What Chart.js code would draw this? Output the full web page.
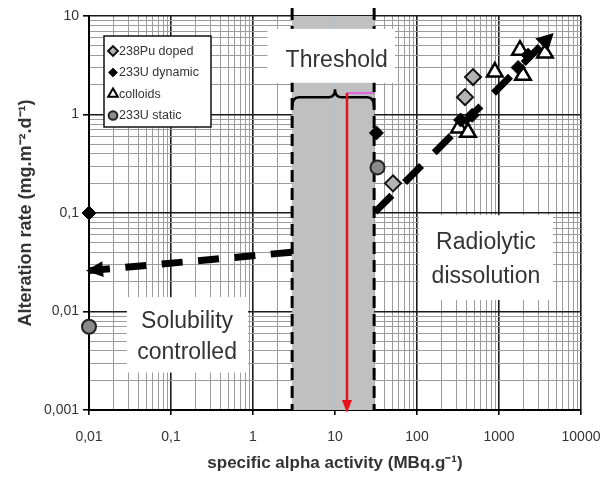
<!DOCTYPE html>
<html>
<head>
<meta charset="utf-8">
<script src="https://cdn.jsdelivr.net/npm/chart.js@4/dist/chart.umd.min.js"></script>
<style>
  html, body { margin: 0; padding: 0; background: #fff; }
  #wrap { width: 603px; height: 486px; position: relative; }
</style>
</head>
<body>
<div id="wrap"><canvas id="c" width="603" height="486"></canvas></div>
<script>
// ---------- data ----------
const xTickLabels = ['0,01', '0,1', '1', '10', '100', '1000', '10000'];
const yTickLabels = ['0,001', '0,01', '0,1', '1', '10'];

const seriesNames = ['238Pu doped', '233U dynamic', 'colloids', '233U static'];

const puDopedX = [51, 385, 482];
const puDopedY = [0.20, 1.5, 2.4];

const uDynamicX = [0.01, 32, 340, 470, 1710, 2260];
const uDynamicY = [0.1, 0.65, 0.88, 0.98, 3.0, 4.0];

const colloidsX = [325, 419, 890, 1800, 1960, 3640];
const colloidsY = [0.73, 0.66, 2.7, 4.5, 2.5, 4.2];

const uStaticX = [0.01, 33];
const uStaticY = [0.007, 0.29];

const solubilityTrendX = [0.01, 3];
const solubilityTrendY = [0.026, 0.040];

const radiolyticTrendX = [30.7, 3960];
const radiolyticTrendY = [0.102, 5.9];

const thresholdRange = [3, 30];
const thresholdMarkX = 14;

const annotationTexts = {
  threshold: ['Threshold'],
  solubility: ['Solubility', 'controlled'],
  radiolytic: ['Radiolytic', 'dissolution']
};

// ---------- helpers ----------
const zip = (xs, ys) => xs.map((x, i) => ({ x: x, y: ys[i] }));
const isDecade = v => Math.abs(Math.log10(v) - Math.round(Math.log10(v))) < 1e-9;
function logTicks(minExp, maxExp) {
  const t = [];
  for (let e = minExp; e < maxExp; e++)
    for (let k = 1; k < 10; k++) t.push({ value: +(k * Math.pow(10, e)).toPrecision(8) });
  t.push({ value: Math.pow(10, maxExp) });
  return t;
}
function decadeLabel(v, labels, minExp) {
  if (!isDecade(v)) return '';
  return labels[Math.round(Math.log10(v)) - minExp];
}

const FONT = "'Liberation Sans', Arial, sans-serif";
const TXT = '#333';

function gridColor(ctx) { return ctx.tick && isDecade(ctx.tick.value) ? '#1a1a1a' : '#9c9c9c'; }
function gridWidth(ctx) { return ctx.tick && isDecade(ctx.tick.value) ? 1.6 : 1; }
function tickCol(ctx) { return ctx.tick && isDecade(ctx.tick.value) ? '#000' : 'rgba(0,0,0,0)'; }

// ---------- marker styles ----------
const styles = [
  { pointStyle: 'rectRot', radius: 8, bg: '#b4b4b4', border: '#111', bw: 2 },
  { pointStyle: 'rectRot', radius: 7, bg: '#000', border: '#000', bw: 1 },
  { pointStyle: 'triangle', radius: 9, bg: '#fff', border: '#000', bw: 2.5 },
  { pointStyle: 'circle', radius: 7, bg: '#8a8a8a', border: '#222', bw: 2 }
];

function drawArrowHead(ctx, tip, from, len, half, color) {
  const dx = tip.x - from.x, dy = tip.y - from.y;
  const d = Math.hypot(dx, dy) || 1;
  const ux = dx / d, uy = dy / d;
  const bx = tip.x - ux * len, by = tip.y - uy * len;
  ctx.fillStyle = color;
  ctx.beginPath();
  ctx.moveTo(tip.x, tip.y);
  ctx.lineTo(bx - uy * half, by + ux * half);
  ctx.lineTo(bx + uy * half, by - ux * half);
  ctx.closePath();
  ctx.fill();
}

const overlay = {
  id: 'overlay',
  beforeDatasetsDraw(chart) {
    const { ctx, chartArea: a, scales: { x, y } } = chart;
    const X = v => x.getPixelForValue(v), Y = v => y.getPixelForValue(v);
    ctx.save();
    // grey threshold band
    const bx1 = X(thresholdRange[0]), bx2 = X(thresholdRange[1]);
    ctx.fillStyle = '#c0c0c0';
    ctx.fillRect(bx1, a.top, bx2 - bx1, a.bottom - a.top);
    // faint line inside band
    ctx.strokeStyle = 'rgba(170,195,215,0.8)';
    ctx.lineWidth = 1;
    ctx.beginPath(); ctx.moveTo(X(10), a.top); ctx.lineTo(X(10), a.bottom); ctx.stroke();
    // dashed band edges
    ctx.strokeStyle = '#000';
    ctx.lineWidth = 3;
    ctx.setLineDash([12, 6]);
    [bx1, bx2].forEach(bx => {
      ctx.beginPath(); ctx.moveTo(bx, a.top - 8); ctx.lineTo(bx, a.bottom); ctx.stroke();
    });
    ctx.setLineDash([]);

    // white label boxes
    function box(x1, x2, y1, y2, lines, tx, tys) {
      const px1 = X(x1), px2 = X(x2), py1 = Y(y1), py2 = Y(y2);
      ctx.fillStyle = '#fff';
      ctx.fillRect(px1, py1, px2 - px1, py2 - py1);
      ctx.fillStyle = TXT;
      ctx.font = '23px ' + FONT;
      ctx.textAlign = 'center';
      ctx.textBaseline = 'middle';
      lines.forEach((t, i) => ctx.fillText(t, X(tx), Y(tys[i])));
    }
    box(1.5, 54, 7.4, 2.1, annotationTexts.threshold, 10.5, [3.5]);
    box(0.029, 0.87, 0.014, 0.0024, annotationTexts.solubility, 0.157, [0.0078, 0.0038]);
    box(106, 4560, 0.095, 0.0131, annotationTexts.radiolytic, 693, [0.0495, 0.0224]);

    // magenta short line
    const yr = Y(1.65);
    ctx.strokeStyle = '#e060e0';
    ctx.lineWidth = 2;
    ctx.beginPath(); ctx.moveTo(X(thresholdMarkX), yr); ctx.lineTo(bx2, yr); ctx.stroke();

    // curly brace
    const yb = Y(1.19), yh = Y(1.5), yt = Y(1.8), xm = X(10);
    ctx.strokeStyle = '#000';
    ctx.lineWidth = 2.5;
    ctx.beginPath();
    ctx.moveTo(bx1, yb);
    ctx.quadraticCurveTo(bx1, yh, bx1 + 7, yh);
    ctx.lineTo(xm - 6, yh);
    ctx.quadraticCurveTo(xm, yh, xm, yt);
    ctx.quadraticCurveTo(xm, yh, xm + 6, yh);
    ctx.lineTo(bx2 - 7, yh);
    ctx.quadraticCurveTo(bx2, yh, bx2, yb);
    ctx.stroke();

    // red arrow
    const rx = X(thresholdMarkX);
    ctx.strokeStyle = '#e8101a';
    ctx.lineWidth = 2.5;
    ctx.beginPath(); ctx.moveTo(rx, yr); ctx.lineTo(rx, a.bottom - 6); ctx.stroke();
    drawArrowHead(ctx, { x: rx, y: a.bottom + 3 }, { x: rx, y: a.bottom - 20 }, 13, 5, '#e8101a');
    ctx.restore();
  },
  afterDatasetsDraw(chart) {
    const { ctx, scales: { x, y } } = chart;
    const X = v => x.getPixelForValue(v), Y = v => y.getPixelForValue(v);
    ctx.save();
    // arrowheads of trend lines
    const s0 = { x: X(solubilityTrendX[0]), y: Y(solubilityTrendY[0]) };
    const s1 = { x: X(solubilityTrendX[1]), y: Y(solubilityTrendY[1]) };
    drawArrowHead(ctx, { x: s0.x - 3, y: s0.y }, s1, 17, 8, '#000');
    const n = radiolyticTrendX.length;
    const r0 = { x: X(radiolyticTrendX[n - 2]), y: Y(radiolyticTrendY[n - 2]) };
    const r1 = { x: X(radiolyticTrendX[n - 1]), y: Y(radiolyticTrendY[n - 1]) };
    const d = Math.hypot(r1.x - r0.x, r1.y - r0.y);
    const tip = { x: r1.x + (r1.x - r0.x) / d * 8, y: r1.y + (r1.y - r0.y) / d * 8 };
    drawArrowHead(ctx, tip, r0, 17, 9, '#000');

    // legend box
    const lx = 104, ly = 36, lw = 107, lh = 91;
    ctx.fillStyle = '#fff';
    ctx.fillRect(lx, ly, lw, lh);
    ctx.strokeStyle = '#111';
    ctx.lineWidth = 1.5;
    ctx.strokeRect(lx, ly, lw, lh);
    ctx.font = '12.5px ' + FONT;
    ctx.textAlign = 'left';
    ctx.textBaseline = 'middle';
    seriesNames.forEach((name, i) => {
      const cy = ly + 15 + i * 21.5;
      const s = styles[i];
      ctx.fillStyle = s.bg;
      ctx.strokeStyle = s.border;
      ctx.lineWidth = Math.min(s.bw, 2);
      Chart.helpers.drawPoint(ctx, { pointStyle: s.pointStyle, radius: s.radius * 0.62, rotation: 0, borderWidth: ctx.lineWidth }, lx + 9, cy);
      ctx.fillStyle = TXT;
      ctx.fillText(name, lx + 15, cy + 0.5);
    });
    ctx.restore();
  }
};

const pointDatasets = [
  [puDopedX, puDopedY], [uDynamicX, uDynamicY], [colloidsX, colloidsY], [uStaticX, uStaticY]
].map((p, i) => ({
  label: seriesNames[i],
  data: zip(p[0], p[1]),
  showLine: false,
  pointStyle: styles[i].pointStyle,
  pointRadius: styles[i].radius,
  pointBackgroundColor: styles[i].bg,
  pointBorderColor: styles[i].border,
  pointBorderWidth: styles[i].bw,
  clip: false
}));

const trendDatasets = [
  {
    label: 'solubility trend',
    data: zip(solubilityTrendX, solubilityTrendY),
    showLine: true, pointRadius: 0, borderColor: '#000', borderWidth: 7,
    borderDash: [21, 15.5], borderCapStyle: 'butt', clip: false
  },
  {
    label: 'radiolytic trend',
    data: zip(radiolyticTrendX, radiolyticTrendY),
    showLine: true, pointRadius: 0, borderColor: '#000', borderWidth: 7,
    borderDash: [24, 18], borderCapStyle: 'butt', clip: false
  }
];

new Chart(document.getElementById('c'), {
  type: 'scatter',
  data: { datasets: pointDatasets.concat(trendDatasets) },
  options: {
    responsive: false,
    animation: false,
    devicePixelRatio: 1,
    layout: { padding: { top: 16, right: 22, left: 0, bottom: 0 } },
    plugins: { legend: { display: false }, tooltip: { enabled: false } },
    scales: {
      x: {
        type: 'logarithmic',
        min: 0.01, max: 10000,
        afterBuildTicks: s => { s.ticks = logTicks(-2, 4); },
        afterFit: s => { s.height = 76; s.paddingLeft = 0; s.paddingRight = 0; },
        ticks: {
          autoSkip: false, maxRotation: 0, padding: 14,
          color: TXT, font: { family: FONT, size: 14 },
          callback: v => decadeLabel(v, xTickLabels, -2)
        },
        grid: { color: gridColor, lineWidth: gridWidth, tickColor: tickCol, tickLength: 5 },
        border: { color: '#000', width: 2 },
        title: {
          display: true, text: 'specific alpha activity (MBq.g\u207B\u00B9)',
          color: TXT, font: { family: FONT, size: 17, weight: 'bold' },
          padding: { top: 0, bottom: 12 }
        }
      },
      y: {
        type: 'logarithmic',
        min: 0.001, max: 10,
        afterBuildTicks: s => { s.ticks = logTicks(-3, 1); },
        afterFit: s => { s.width = 89; s.paddingTop = 0; s.paddingBottom = 0; },
        ticks: {
          autoSkip: false, padding: 4,
          color: TXT, font: { family: FONT, size: 14 },
          callback: v => decadeLabel(v, yTickLabels, -3)
        },
        grid: { color: gridColor, lineWidth: gridWidth, tickColor: tickCol, tickLength: 6 },
        border: { color: '#000', width: 2 },
        title: {
          display: true, text: 'Alteration rate (mg.m\u207B\u00B2.d\u207B\u00B9)',
          color: TXT, font: { family: FONT, size: 18, weight: 'bold' },
          padding: { top: 15, bottom: 0 }
        }
      }
    }
  },
  plugins: [overlay]
});
</script>
</body>
</html>
